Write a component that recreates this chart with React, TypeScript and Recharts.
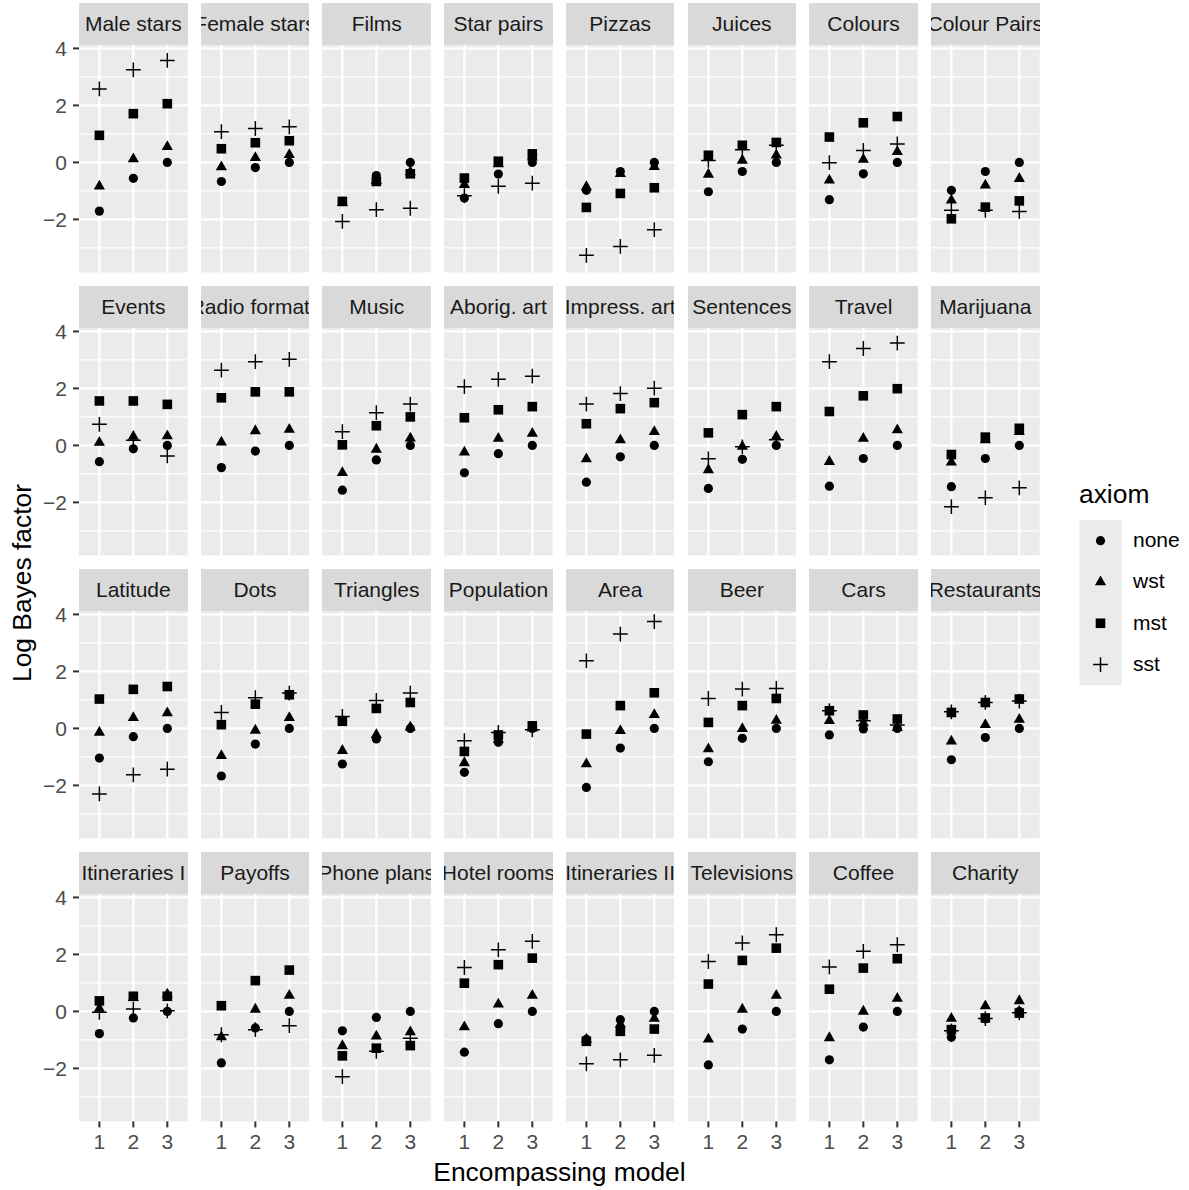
import React from 'react';
import { ScatterChart, Scatter, XAxis, YAxis, CartesianGrid } from 'recharts';

// ---------- data ----------
const panels = [
  'Male stars', 'Female stars', 'Films', 'Star pairs', 'Pizzas', 'Juices', 'Colours', 'Colour Pairs',
  'Events', 'Radio formats', 'Music', 'Aborig. art', 'Impress. art', 'Sentences', 'Travel', 'Marijuana',
  'Latitude', 'Dots', 'Triangles', 'Population', 'Area', 'Beer', 'Cars', 'Restaurants',
  'Itineraries I', 'Payoffs', 'Phone plans', 'Hotel rooms', 'Itineraries II', 'Televisions', 'Coffee', 'Charity',
];
const xValues = [1, 2, 3];
const xTicks = [1, 2, 3];
const yTicks = [-2, 0, 2, 4];
const yMinor = [-3, -1, 1, 3];
const axiomLabels = ['none', 'wst', 'mst', 'sst'];

const noneVals = [
  [-1.71, -0.56, 0], [-0.67, -0.18, 0], [-1.38, -0.46, 0], [-1.25, -0.41, 0],
  [-0.98, -0.32, 0], [-1.03, -0.32, 0], [-1.31, -0.40, 0], [-0.98, -0.32, 0],
  [-0.57, -0.12, 0], [-0.78, -0.20, 0], [-1.57, -0.51, 0], [-0.96, -0.29, 0],
  [-1.29, -0.40, 0], [-1.51, -0.49, 0], [-1.43, -0.46, 0], [-1.45, -0.46, 0],
  [-1.04, -0.29, 0], [-1.67, -0.55, 0], [-1.25, -0.37, 0], [-1.54, -0.49, 0],
  [-2.07, -0.69, 0], [-1.17, -0.35, 0], [-0.23, -0.02, 0], [-1.10, -0.32, 0],
  [-0.78, -0.23, 0], [-1.81, -0.58, 0], [-0.68, -0.21, 0], [-1.43, -0.43, 0],
  [-0.98, -0.29, 0], [-1.88, -0.62, 0], [-1.70, -0.55, 0], [-0.91, -0.26, 0],
];
const wstVals = [
  [-0.84, 0.12, 0.55], [-0.16, 0.16, 0.27], [-1.42, -0.64, -0.34], [-0.78, -0.06, 0.18],
  [-0.86, -0.40, -0.15], [-0.42, 0.07, 0.25], [-0.63, 0.10, 0.37], [-1.33, -0.80, -0.57],
  [0.10, 0.31, 0.33], [0.11, 0.51, 0.56], [-0.96, -0.14, 0.25], [-0.24, 0.24, 0.42],
  [-0.48, 0.19, 0.48], [-0.86, -0.04, 0.31], [-0.57, 0.24, 0.54], [-0.59, 0.19, 0.48],
  [-0.14, 0.37, 0.54], [-0.96, -0.07, 0.37], [-0.78, -0.22, 0.04], [-1.21, -0.39, 0.01],
  [-1.25, -0.08, 0.48], [-0.72, -0.01, 0.28], [0.27, 0.19, 0.02], [-0.45, 0.13, 0.31],
  [0.10, 0.48, 0.60], [-0.90, 0.07, 0.56], [-1.21, -0.87, -0.72], [-0.55, 0.25, 0.56],
  [-0.98, -0.45, -0.25], [-0.98, 0.07, 0.56], [-0.93, 0.00, 0.45], [-0.25, 0.19, 0.37],
];
const mstVals = [
  [0.95, 1.71, 2.06], [0.48, 0.69, 0.76], [-1.37, -0.67, -0.40], [-0.55, 0.04, 0.30],
  [-1.58, -1.09, -0.89], [0.25, 0.60, 0.70], [0.89, 1.39, 1.61], [-1.98, -1.57, -1.35],
  [1.56, 1.56, 1.44], [1.67, 1.88, 1.88], [0.02, 0.69, 1.00], [0.97, 1.25, 1.36],
  [0.76, 1.29, 1.50], [0.44, 1.08, 1.36], [1.19, 1.74, 1.99], [-0.32, 0.29, 0.60],
  [1.03, 1.37, 1.47], [0.13, 0.85, 1.18], [0.25, 0.70, 0.91], [-0.81, -0.23, 0.09],
  [-0.20, 0.80, 1.25], [0.21, 0.80, 1.05], [0.62, 0.47, 0.33], [0.56, 0.91, 1.03],
  [0.37, 0.53, 0.53], [0.20, 1.08, 1.45], [-1.56, -1.29, -1.20], [0.99, 1.64, 1.87],
  [-1.05, -0.70, -0.62], [0.96, 1.79, 2.22], [0.78, 1.52, 1.85], [-0.64, -0.23, -0.06],
];
const sstVals = [
  [2.58, 3.25, 3.58], [1.08, 1.19, 1.25], [-2.07, -1.66, -1.61], [-1.17, -0.84, -0.73],
  [-3.26, -2.95, -2.36], [0.07, 0.44, 0.60], [-0.01, 0.42, 0.65], [-1.68, -1.68, -1.72],
  [0.74, 0.18, -0.37], [2.64, 2.94, 3.02], [0.48, 1.15, 1.45], [2.06, 2.32, 2.43],
  [1.45, 1.82, 2.01], [-0.47, -0.05, 0.20], [2.94, 3.40, 3.59], [-2.15, -1.84, -1.49],
  [-2.30, -1.63, -1.43], [0.56, 1.08, 1.24], [0.42, 0.98, 1.24], [-0.43, -0.14, -0.05],
  [2.37, 3.31, 3.75], [1.05, 1.38, 1.40], [0.62, 0.27, 0.12], [0.58, 0.91, 0.96],
  [-0.03, 0.08, 0.02], [-0.82, -0.64, -0.50], [-2.29, -1.40, -0.94], [1.54, 2.16, 2.46],
  [-1.84, -1.70, -1.54], [1.75, 2.40, 2.69], [1.56, 2.11, 2.34], [-0.68, -0.25, -0.05],
];

// ---------- layout / style ----------
const FONT = '"Liberation Sans", Arial, Helvetica, sans-serif';
const COL0 = 79;
const COL_DX = 121.7;
const PW = 108.7;
const STRIP_TOP0 = 3.3;
const STRIP_H = 42;
const ROW_DY = 283;
const PH = 227.4;
const YW = 60;
const XH = 50;
const TOPPAD = 14;
const Y_DOMAIN: [number, number] = [-3.86, 4.12];
const X_DOMAIN: [number, number] = [0.4, 3.6];

const toPoints = (vals: number[]) => xValues.map((x, i) => ({ x, y: vals[i] }));
const fmt = (v: number) => (v < 0 ? '\u2212' + Math.abs(v) : String(v));

const CircleShape = (p: any) => <circle cx={p.cx} cy={p.cy} r={4.6} fill="#000" />;
const TriShape = (p: any) => {
  const h = 9.8, w = 11.2;
  const d = `M${p.cx},${p.cy - (2 * h) / 3}L${p.cx + w / 2},${p.cy + h / 3}L${p.cx - w / 2},${p.cy + h / 3}Z`;
  return <path d={d} fill="#000" />;
};
const SqShape = (p: any) => <rect x={p.cx - 4.8} y={p.cy - 4.8} width={9.6} height={9.6} fill="#000" />;
const PlusShape = (p: any) => {
  const r = 7.4;
  const d = `M${p.cx - r},${p.cy}H${p.cx + r}M${p.cx},${p.cy - r}V${p.cy + r}`;
  return <path d={d} stroke="#000" strokeWidth={1.5} fill="none" />;
};

const shapes = [CircleShape, TriShape, SqShape, PlusShape];
const seriesVals = [noneVals, wstVals, mstVals, sstVals];

function Panel({ idx }: { idx: number }) {
  const r = Math.floor(idx / 8);
  const c = idx % 8;
  const left = COL0 + c * COL_DX;
  const stripTop = STRIP_TOP0 + r * ROW_DY;
  const plotTop = stripTop + STRIP_H;
  const showY = c === 0;
  const showX = r === 3;
  const tickStyle = { fill: '#4D4D4D', fontSize: 21, fontFamily: FONT };
  const tickLine = { stroke: '#333333', strokeWidth: 2 };
  return (
    <>
      <div style={{ position: 'absolute', left: left - (showY ? YW : 0), top: plotTop - TOPPAD }}>
        <ScatterChart
          width={PW + (showY ? YW : 0)}
          height={PH + TOPPAD + (showX ? XH : 0)}
          margin={{ top: TOPPAD, right: 0, bottom: 0, left: 0 }}
        >
          <CartesianGrid fill="#EBEBEB" stroke="#FFFFFF" strokeWidth={1.1} horizontalValues={yMinor} vertical={false} />
          <CartesianGrid stroke="#FFFFFF" strokeWidth={2.2} horizontalValues={yTicks} verticalValues={xTicks} />
          <XAxis
            type="number" dataKey="x" domain={X_DOMAIN} ticks={xTicks} allowDataOverflow
            hide={!showX} height={XH} axisLine={false} tickLine={tickLine} tickSize={6} tickMargin={7}
            tick={tickStyle} interval={0}
          />
          <YAxis
            type="number" dataKey="y" domain={Y_DOMAIN} ticks={yTicks} allowDataOverflow
            hide={!showY} width={YW} axisLine={false} tickLine={tickLine} tickSize={6} tickMargin={6}
            tick={tickStyle} tickFormatter={fmt} interval={0}
          />
          {seriesVals.map((vals, s) => (
            <Scatter
              key={axiomLabels[s]}
              name={axiomLabels[s]}
              data={toPoints(vals[idx])}
              shape={shapes[s]}
              isAnimationActive={false}
            />
          ))}
        </ScatterChart>
      </div>
      <div
        style={{
          position: 'absolute', left, top: stripTop, width: PW, height: STRIP_H,
          background: '#D9D9D9', overflow: 'hidden', display: 'flex',
          alignItems: 'center', justifyContent: 'center', whiteSpace: 'nowrap',
          fontSize: 21, color: '#1A1A1A', fontFamily: FONT,
        }}
      >
        {panels[idx]}
      </div>
    </>
  );
}

function Legend() {
  const keyTop = 520;
  const keyH = 41.3;
  const keyX = 1079.5;
  const keyW = 42;
  const cx = keyX + keyW / 2;
  return (
    <g>
      <text x={1079} y={503} fontSize={26.4} fill="#000" fontFamily={FONT}>axiom</text>
      <rect x={keyX} y={keyTop} width={keyW} height={keyH * 4} fill="#EBEBEB" />
      {axiomLabels.map((lab, i) => {
        const cy = keyTop + keyH * (i + 0.5);
        const Shape = shapes[i];
        return (
          <g key={lab}>
            <Shape cx={cx} cy={cy} />
            <text x={1133} y={cy + 6.5} fontSize={21} fill="#000" fontFamily={FONT}>{lab}</text>
          </g>
        );
      })}
    </g>
  );
}

export default function App() {
  return (
    <div
      style={{
        position: 'absolute', left: 0, top: 0, width: 1189, height: 1190,
        background: '#FFFFFF', fontFamily: FONT, overflow: 'hidden',
      }}
    >
      <svg width={1189} height={1190} style={{ position: 'absolute', left: 0, top: 0 }}>
        <text
          transform="translate(31,583) rotate(-90)" textAnchor="middle"
          fontSize={26.4} fill="#000" fontFamily={FONT}
        >
          Log Bayes factor
        </text>
        <text x={559.5} y={1181} textAnchor="middle" fontSize={26.4} fill="#000" fontFamily={FONT}>
          Encompassing model
        </text>
        <Legend />
      </svg>
      {panels.map((_, i) => (
        <Panel key={i} idx={i} />
      ))}
    </div>
  );
}
